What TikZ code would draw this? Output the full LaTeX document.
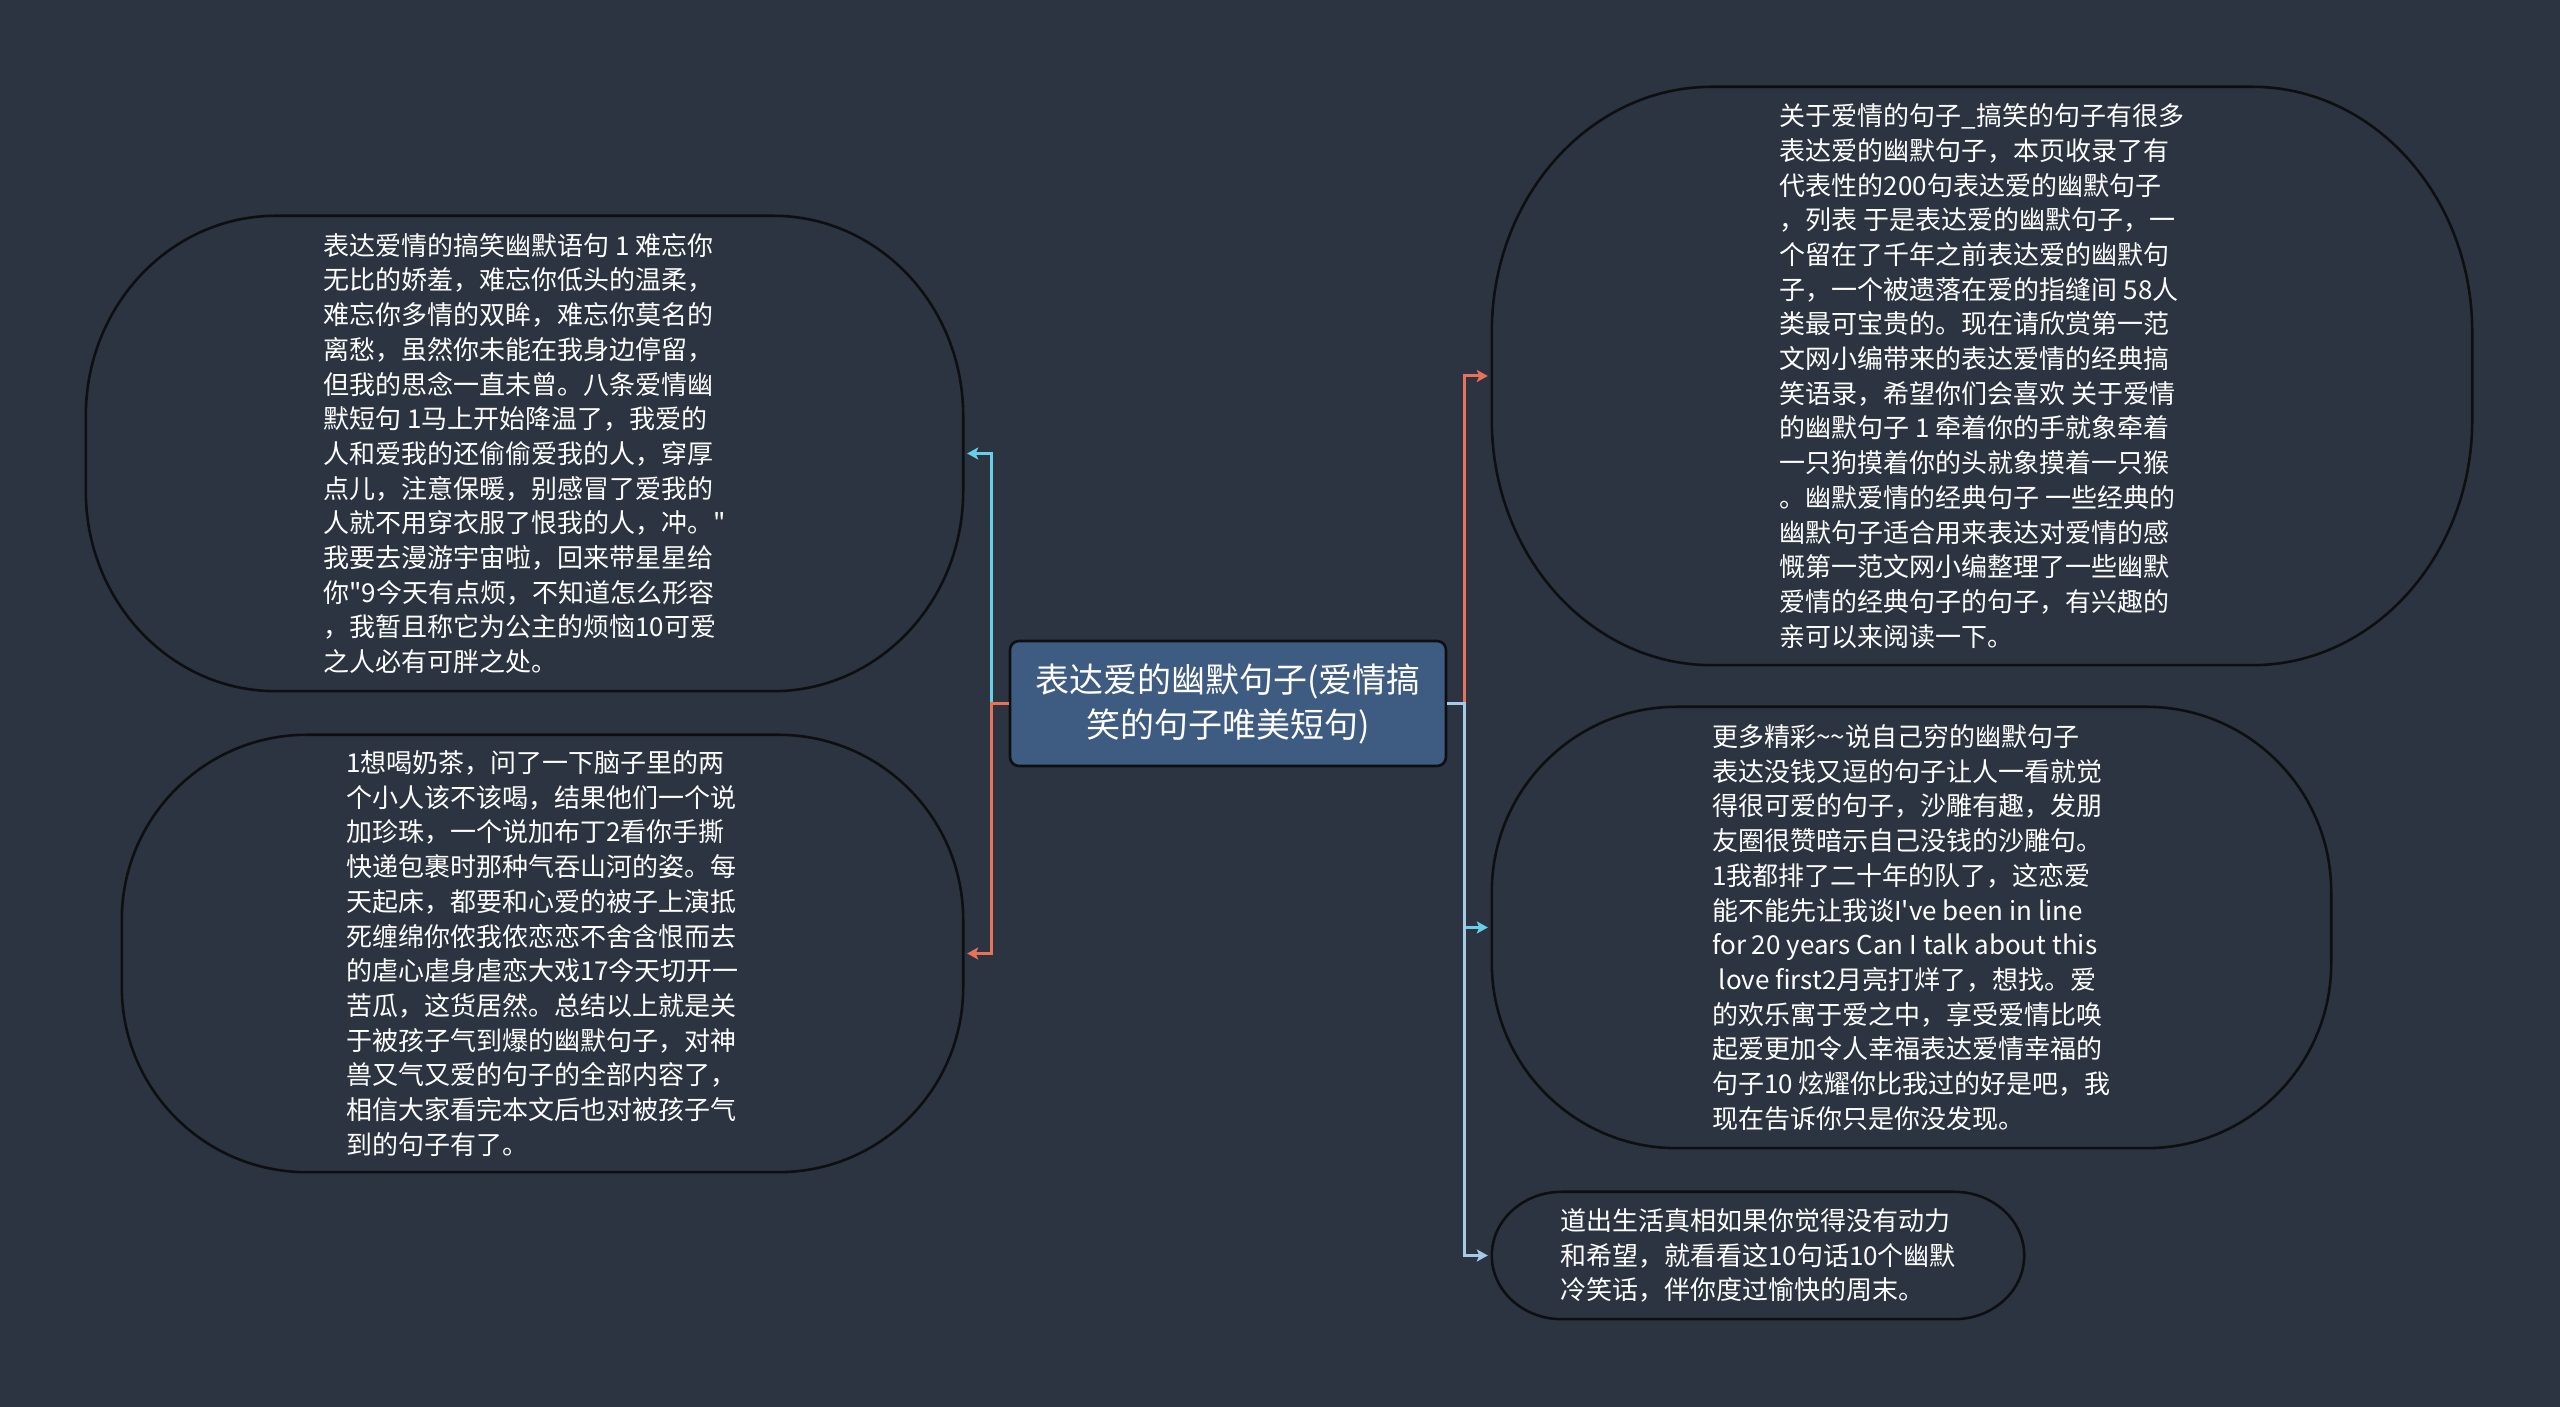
\documentclass[tikz,border=0pt]{standalone}
\usepackage{fontspec}
\newfontfamily\cjkfont{Noto Sans CJK SC}
\usetikzlibrary{arrows.meta,calc}
\definecolor{bgc}{HTML}{2C3442}
\definecolor{centerfill}{HTML}{3E5B82}
\definecolor{lnkcyan}{HTML}{67CFE6}
\definecolor{lnkred}{HTML}{E8715A}
\definecolor{lnkblue}{HTML}{A6C9E4}
\definecolor{edgec}{HTML}{0E0F12}
\tikzset{
  bubble/.style={text=white, align=left, inner sep=0pt,
    font=\cjkfont\fontsize{26pt}{34.7pt}\selectfont},
  bubbleedge/.style={draw=edgec, line width=2.6pt},
  centerbox/.style={draw=edgec, line width=2.6pt, fill=centerfill, text=white,
    rounded corners=9pt, align=center, minimum width=436pt, minimum height=125pt,
    font=\cjkfont\fontsize{34pt}{45pt}\selectfont},
  link/.style={line width=3pt, shorten >=4pt, -{Stealth[length=11pt,width=12pt,inset=2.5pt]}}
}
% outline with elliptical corners round a node: name, rx, ry
\newcommand\ovaledge[3]{%
  \draw[bubbleedge] let \p1=(#1.south west), \p2=(#1.north east) in
    (\x1+#2pt,\y2) -- (\x2-#2pt,\y2)
    arc[start angle=90,end angle=0,x radius=#2pt,y radius=#3pt]
    -- (\x2,\y1+#3pt)
    arc[start angle=0,end angle=-90,x radius=#2pt,y radius=#3pt]
    -- (\x1+#2pt,\y1)
    arc[start angle=270,end angle=180,x radius=#2pt,y radius=#3pt]
    -- (\x1,\y2-#3pt)
    arc[start angle=180,end angle=90,x radius=#2pt,y radius=#3pt] -- cycle;}
\begin{document}
\begin{tikzpicture}[x=1pt,y=1pt]
\useasboundingbox (0,0) rectangle (2560,1407);
\fill[bgc] (0,0) rectangle (2560,1407);

\node[centerbox] (c) at (1228,703.5) {表达爱的幽默句子(爱情搞\\笑的句子唯美短句)};

\node[bubble, minimum width=877pt, minimum height=475pt] (l1) at (524.5,953.5) {表达爱情的搞笑幽默语句 1 难忘你\\
无比的娇羞，难忘你低头的温柔，\\
难忘你多情的双眸，难忘你莫名的\\
离愁，虽然你未能在我身边停留，\\
但我的思念一直未曾。八条爱情幽\\
默短句 1马上开始降温了，我爱的\\
人和爱我的还偷偷爱我的人，穿厚\\
点儿，注意保暖，别感冒了爱我的\\
人就不用穿衣服了恨我的人，冲。"\\
我要去漫游宇宙啦，回来带星星给\\
你"9今天有点烦，不知道怎么形容\\
，我暂且称它为公主的烦恼10可爱\\
之人必有可胖之处。};
\ovaledge{l1}{190}{200}

\node[bubble, minimum width=841pt, minimum height=437pt] (l2) at (542.5,453.5) {1想喝奶茶，问了一下脑子里的两\\
个小人该不该喝，结果他们一个说\\
加珍珠，一个说加布丁2看你手撕\\
快递包裹时那种气吞山河的姿。每\\
天起床，都要和心爱的被子上演抵\\
死缠绵你侬我侬恋恋不舍含恨而去\\
的虐心虐身虐恋大戏17今天切开一\\
苦瓜，这货居然。总结以上就是关\\
于被孩子气到爆的幽默句子，对神\\
兽又气又爱的句子的全部内容了，\\
相信大家看完本文后也对被孩子气\\
到的句子有了。};
\ovaledge{l2}{185}{185}

\node[bubble, minimum width=980pt, minimum height=578pt] (r1) at (1982,1031) {关于爱情的句子\_搞笑的句子有很多\\
表达爱的幽默句子，本页收录了有\\
代表性的200句表达爱的幽默句子\\
，列表 于是表达爱的幽默句子，一\\
个留在了千年之前表达爱的幽默句\\
子，一个被遗落在爱的指缝间 58人\\
类最可宝贵的。现在请欣赏第一范\\
文网小编带来的表达爱情的经典搞\\
笑语录，希望你们会喜欢 关于爱情\\
的幽默句子 1 牵着你的手就象牵着\\
一只狗摸着你的头就象摸着一只猴\\
。幽默爱情的经典句子 一些经典的\\
幽默句子适合用来表达对爱情的感\\
慨第一范文网小编整理了一些幽默\\
爱情的经典句子的句子，有兴趣的\\
亲可以来阅读一下。};
\ovaledge{r1}{220}{245}

\node[bubble, minimum width=839pt, minimum height=441pt] (r2) at (1911.5,479.5) {更多精彩\textasciitilde\textasciitilde 说自己穷的幽默句子\\
表达没钱又逗的句子让人一看就觉\\
得很可爱的句子，沙雕有趣，发朋\\
友圈很赞暗示自己没钱的沙雕句。\\
1我都排了二十年的队了，这恋爱\\
能不能先让我谈I've been in line\\
for 20 years Can I talk about this\\
\hspace*{0.25em}love first2月亮打烊了，想找。爱\\
的欢乐寓于爱之中，享受爱情比唤\\
起爱更加令人幸福表达爱情幸福的\\
句子10 炫耀你比我过的好是吧，我\\
现在告诉你只是你没发现。};
\ovaledge{r2}{185}{185}

\node[bubble, minimum width=532pt, minimum height=127pt] (r3) at (1758,151.5) {道出生活真相如果你觉得没有动力\\
和希望，就看看这10句话10个幽默\\
冷笑话，伴你度过愉快的周末。};
\ovaledge{r3}{70}{63.5}

\draw[link, lnkcyan] (c.west) -- ++(-17,0) |- (l1.east);
\draw[link, lnkred] (c.west) -- ++(-17,0) |- (l2.east);
\draw[link, lnkred] (c.east) -- ++(17,0) |- (r1.west);
\draw[link, lnkcyan] (c.east) -- ++(17,0) |- (r2.west);
\draw[link, lnkblue] (c.east) -- ++(17,0) |- (r3.west);
\end{tikzpicture}
\end{document}
